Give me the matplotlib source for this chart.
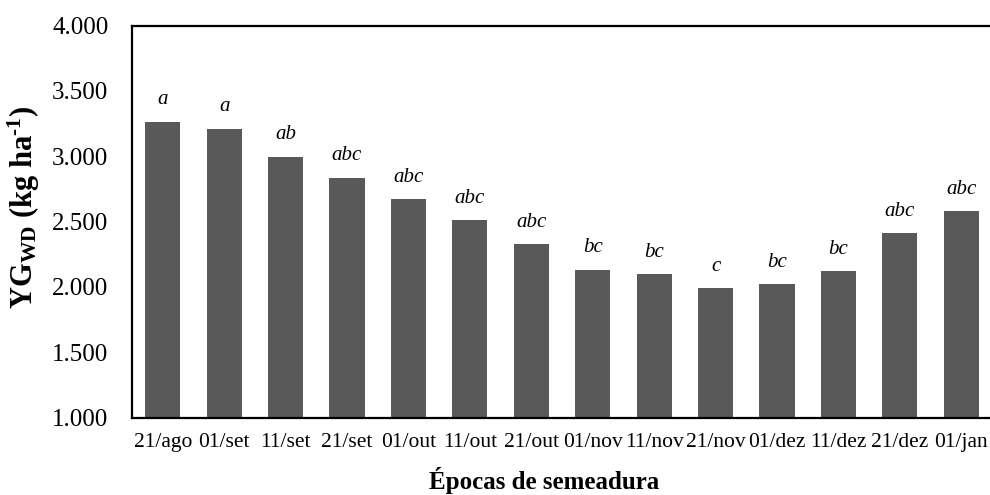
import matplotlib
matplotlib.use("Agg")
import matplotlib.pyplot as plt
from matplotlib.ticker import FuncFormatter, MultipleLocator
import numpy as np

# sowing dates and yield gap values
epocas = ['21/ago', '01/set', '11/set', '21/set', '01/out', '11/out', '21/out',
          '01/nov', '11/nov', '21/nov', '01/dez', '11/dez', '21/dez', '01/jan']
yg_wd = [3262, 3208, 2994, 2833, 2672, 2511, 2327,
         2130, 2097, 1990, 2021, 2120, 2411, 2580]
letras = ['a', 'a', 'ab', 'abc', 'abc', 'abc', 'abc',
          'bc', 'bc', 'c', 'bc', 'bc', 'abc', 'abc']

plt.rcParams['font.family'] = ['Liberation Serif', 'DejaVu Serif']
plt.rcParams['mathtext.fontset'] = 'custom'
plt.rcParams['mathtext.rm'] = 'Liberation Serif:bold'
plt.rcParams['mathtext.bf'] = 'Liberation Serif:bold'
plt.rcParams['mathtext.it'] = 'Liberation Serif:bold:italic'

fig = plt.figure(figsize=(9.9, 4.95), dpi=100)
ax = fig.add_axes([132 / 990, 1 - 417.5 / 495, 860 / 990, 392 / 495])

x = np.arange(len(epocas))
ax.bar(x, yg_wd, width=0.57, color='#595959', zorder=2)

for xi, v, l in zip(x, yg_wd, letras):
    ax.annotate(l, (xi, v), xytext=(0, 9), textcoords='offset points',
                ha='center', va='bottom', fontsize=15, style='italic')

ax.set_xlim(-0.5, 13.5)
ax.set_ylim(1000, 4000)
ax.yaxis.set_major_locator(MultipleLocator(500))
ax.yaxis.set_major_formatter(FuncFormatter(lambda v, p: f'{v/1000:.3f}'))
ax.set_xticks(x)
ax.set_xticklabels(epocas)
ax.tick_params(axis='y', length=0, pad=17, labelsize=18)
ax.tick_params(axis='x', length=0, pad=11, labelsize=15.5)

ax.spines['right'].set_visible(False)
for s in ['left', 'top', 'bottom']:
    ax.spines[s].set_linewidth(1.6)

# hyphen (U+2010) instead of the mathtext minus, like the original
fig.text(24 / 990, 1 - 207 / 495, 'YG$_{\\mathrm{WD}}$ (kg ha$^{\\mathrm{\u2010 1}}$)'.replace('\u2010 ', '\u2010'),
         rotation=90, ha='center', va='center', fontsize=22, fontweight='bold')
fig.text(544 / 990, 1 - 480 / 495, 'Épocas de semeadura',
         ha='center', va='center', fontsize=18, fontweight='bold')

fig.savefig('out.png', dpi=100)
